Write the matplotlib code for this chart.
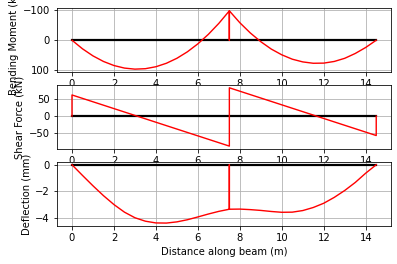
import matplotlib
matplotlib.use("Agg")
import matplotlib.pyplot as plt

# Beam: two spans, 0 - 7.5 m and 7.5 - 14.5 m
beam_length = 14.5

# Bending moment (kN), every 0.5 m
moment_x = [0.0, 0.5, 1.0, 1.5, 2.0, 2.5, 3.0, 3.5, 4.0, 4.5, 5.0, 5.5, 6.0, 6.5, 7.0, 7.5,
            7.5, 7.5,
            8.0, 8.5, 9.0, 9.5, 10.0, 10.5, 11.0, 11.5, 12.0, 12.5, 13.0, 13.5, 14.0, 14.5]
moment_y = [0.0, 28.5, 52.0, 70.5, 84.0, 92.5, 96.0, 94.5, 88.0, 76.5, 60.0, 38.5, 12.0, -19.5, -56.0, -97.5,
            0.0, -97.5,
            -58.0, -24.0, 5.0, 29.5, 48.5, 63.0, 72.0, 76.5, 76.0, 70.5, 60.0, 44.0, 24.0, 0.0]

# Shear force (kN)
shear_x = [0.0, 0.0, 7.5, 7.5, 14.5, 14.5]
shear_y = [0.0, 62.0, -88.0, 83.0, -57.0, 0.0]

# Deflection (mm)
defl_x = [0.0, 0.5, 1.0, 1.5, 2.0, 2.5, 3.0, 3.5, 4.0, 4.5, 5.0, 5.5, 6.0, 6.5, 7.0, 7.5,
          7.5, 7.5,
          8.0, 8.5, 9.0, 9.5, 10.0, 10.5, 11.0, 11.5, 12.0, 12.5, 13.0, 13.5, 14.0, 14.5]
defl_y = [0.0, -0.80, -1.58, -2.32, -2.99, -3.56, -3.98, -4.24, -4.37, -4.38, -4.29, -4.13, -3.92, -3.7, -3.5, -3.34,
          0.0, -3.34,
          -3.33, -3.37, -3.43, -3.51, -3.57, -3.56, -3.44, -3.21, -2.89, -2.45, -1.93, -1.33, -0.63, 0.0]

fig, axes = plt.subplots(3, 1, figsize=(397 / 72, 264 / 72), dpi=72)
fig.subplots_adjust(left=0.143, right=0.986, top=0.97, bottom=0.144, hspace=0.2)

red_lw = 1.4
black_lw = 2.2

# Bending moment
ax = axes[0]
ax.plot([0, beam_length], [0, 0], color='k', linewidth=black_lw)
ax.plot(moment_x, moment_y, color='r', linewidth=red_lw)
ax.invert_yaxis()
ax.set_ylabel('Bending Moment (kN)')
ax.grid(True)

# Shear force
ax = axes[1]
ax.plot([0, beam_length], [0, 0], color='k', linewidth=black_lw)
ax.plot(shear_x, shear_y, color='r', linewidth=red_lw)
ax.set_ylabel('Shear Force (kN)')
ax.grid(True)

# Deflection
ax = axes[2]
ax.plot([0, beam_length], [0, 0], color='k', linewidth=black_lw)
ax.plot(defl_x, defl_y, color='r', linewidth=red_lw)
ax.set_ylabel('Deflection (mm)')
ax.set_xlabel('Distance along beam (m)')
ax.grid(True)

fig.savefig('out.png', dpi=72)
